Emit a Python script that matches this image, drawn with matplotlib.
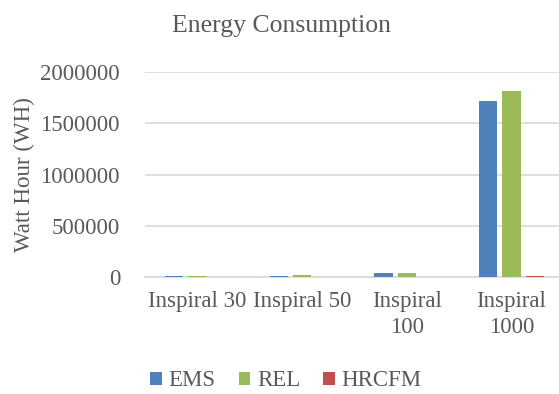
import matplotlib

matplotlib.use("Agg")

import matplotlib.pyplot as plt
import numpy as np
from matplotlib.patches import Patch

categories = ["Inspiral 30", "Inspiral 50", "Inspiral\n100", "Inspiral\n1000"]
series_names = ["EMS", "REL", "HRCFM"]
ems = [6000, 14000, 36000, 1715000]
rel = [6000, 15000, 38000, 1815000]
hrcfm = [300, 600, 1200, 9000]
colors = ["#4F81BD", "#9BBB59", "#C0504D"]

plt.rcParams["font.family"] = "serif"
plt.rcParams["font.serif"] = ["Liberation Serif", "DejaVu Serif"]
TEXT = "#595959"
FS = 16.5

fig = plt.figure(figsize=(5.59, 3.94), dpi=100)
ax = fig.add_axes([145 / 559, 1 - 277 / 394, 1 - 145 / 559, (277 - 72) / 394])

x = np.arange(len(categories))
width = 0.175
offset = 0.222
for i, (vals, col) in enumerate(zip([ems, rel, hrcfm], colors)):
    ax.bar(x + (i - 1) * offset, vals, width=width, color=col, zorder=3,
           label=series_names[i])

ax.set_xlim(-0.5, (559 - 145) / 104.7 - 0.5)
ax.set_ylim(0, 2000000)
ax.set_yticks([0, 500000, 1000000, 1500000, 2000000])
ax.set_yticklabels(["0", "500000", "1000000", "1500000", "2000000"])
ax.yaxis.grid(True, color="#D9D9D9", linewidth=1.2, zorder=0)
ax.set_xticks(x)
ax.set_xticklabels(categories, linespacing=1.3)

for side in ["top", "right", "left"]:
    ax.spines[side].set_visible(False)
ax.spines["bottom"].set_color("#D9D9D9")
ax.spines["bottom"].set_linewidth(1.2)
ax.tick_params(axis="both", length=0, labelsize=FS, labelcolor=TEXT)
ax.tick_params(axis="y", pad=18)
ax.tick_params(axis="x", pad=10)

ax.set_ylabel("Watt Hour (WH)", fontsize=FS, color=TEXT, labelpad=4)
fig.text(282 / 559, 1 - 26 / 394, "Energy Consumption", ha="center", va="center",
         fontsize=18.5, color=TEXT)

handles = [Patch(facecolor=c, edgecolor="none", label=n) for c, n in zip(colors, series_names)]
fig.legend(handles=handles, loc="center", bbox_to_anchor=(286 / 559, 1 - 381 / 394),
           ncol=3, frameon=False, prop={"family": "serif", "size": FS}, labelcolor=TEXT,
           handlelength=0.5, handleheight=0.5, handletextpad=0.3, columnspacing=1.0)

fig.savefig("out.png", dpi=100)
